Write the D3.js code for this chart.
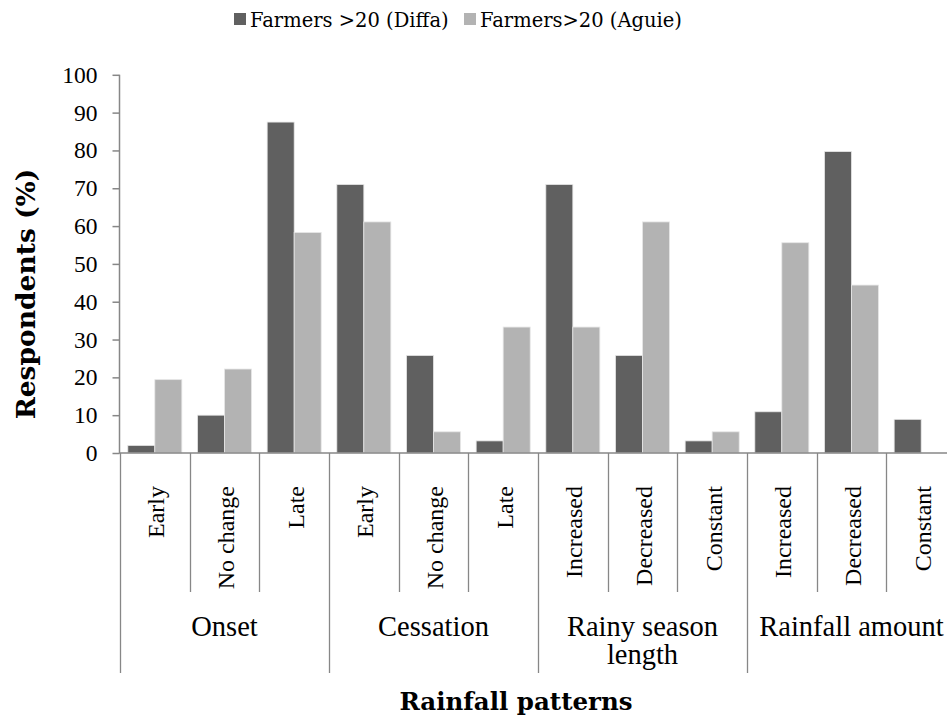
<!DOCTYPE html>
<html>
<head>
<meta charset="utf-8">
<script src="https://cdn.jsdelivr.net/npm/d3@7"></script>
<style>
html,body{margin:0;padding:0;background:#fff;}
svg{display:block;}
</style>
</head>
<body>
<svg id="chart" width="947" height="717"></svg>
<script>
// ---- data ----
const groups = ["Onset", "Cessation", "Rainy season length", "Rainfall amount"];
const subcategories = [
  ["Early", "No change", "Late"],
  ["Early", "No change", "Late"],
  ["Increased", "Decreased", "Constant"],
  ["Increased", "Decreased", "Constant"]
];
const seriesNames = ["Farmers >20 (Diffa)", "Farmers>20 (Aguie)"];
const diffa = [2.0, 10.0, 87.5, 71.0, 25.8, 3.2, 71.0, 25.8, 3.2, 10.9, 79.7, 8.9];
const aguie = [19.4, 22.2, 58.3, 61.1, 5.6, 33.3, 33.3, 61.1, 5.6, 55.6, 44.4, 0];
const yTicks = [0, 10, 20, 30, 40, 50, 60, 70, 80, 90, 100];
const colors = ["#606060", "#b3b3b3"];

// ---- build rows ----
const rows = [];
groups.forEach((g, gi) => subcategories[gi].forEach(s => rows.push({group: g, gi, sub: s, key: g + "|" + s})));
rows.forEach((r, i) => { r.values = [diffa[i], aguie[i]]; });

const svg = d3.select("#chart");
const axisColor = "#878787";
const TMS = '"Liberation Serif","Times New Roman",Times,serif';
const CMB = '"DejaVu Serif",serif';

const y = d3.scaleLinear().domain([0, 100]).range([453, 74.8]);
const x0 = d3.scaleBand().domain(rows.map(r => r.key)).range([120, 956]).paddingInner(0).paddingOuter(0);
const x1 = d3.scaleBand().domain(seriesNames).range([0, x0.bandwidth()]).paddingInner(0).paddingOuter(0.29);

// bars
const gBars = svg.append("g");
rows.forEach(r => {
  seriesNames.forEach((s, si) => {
    const v = r.values[si];
    if (v <= 0) return;
    gBars.append("rect")
      .attr("x", x0(r.key) + x1(s))
      .attr("y", y(v))
      .attr("width", x1.bandwidth())
      .attr("height", y(0) - y(v))
      .attr("fill", colors[si])
      .attr("stroke", "#e6e6e6")
      .attr("stroke-width", 0.8);
  });
});

// y axis
const yAxis = d3.axisLeft(y).tickValues(yTicks).tickSize(7).tickPadding(15);
const gy = svg.append("g").attr("transform", "translate(119.5,0)").call(yAxis);
gy.attr("font-family", TMS).attr("font-size", 23);
gy.select(".domain").attr("stroke", axisColor).attr("stroke-width", 1.5).attr("d", `M0,${y(100)}V${y(0)}`);
gy.selectAll(".tick line").attr("stroke", axisColor).attr("stroke-width", 1.5);
gy.selectAll(".tick text").attr("fill", "#000").attr("font-family", TMS).attr("font-size", 23.5);

// x baseline
svg.append("line").attr("x1", 119).attr("x2", 956).attr("y1", y(0)).attr("y2", y(0))
  .attr("stroke", axisColor).attr("stroke-width", 1.5);

// separators
const sepG = svg.append("g");
rows.forEach((r, i) => {
  const xl = Math.round(x0(r.key)) + 0.5;
  const isGroupStart = i === 0 || rows[i - 1].group !== r.group;
  sepG.append("line").attr("x1", xl).attr("x2", xl).attr("y1", y(0)).attr("y2", isGroupStart ? 673 : 592)
    .attr("stroke", axisColor).attr("stroke-width", 1.3);
});
sepG.append("line").attr("x1", 956).attr("x2", 956).attr("y1", y(0)).attr("y2", 673)
  .attr("stroke", axisColor).attr("stroke-width", 1.3);

// subcategory labels
rows.forEach(r => {
  const cx = x0(r.key) + x0.bandwidth() / 2;
  svg.append("text")
    .attr("transform", `translate(${cx + 1},486) rotate(-90)`)
    .attr("text-anchor", "end")
    .attr("dy", "0.35em")
    .attr("font-family", TMS)
    .attr("font-size", 24)
    .text(r.sub);
});

// group labels
groups.forEach((g, gi) => {
  const keys = rows.filter(r => r.gi === gi).map(r => r.key);
  const cx = (x0(keys[0]) + x0(keys[keys.length - 1]) + x0.bandwidth()) / 2;
  const lines = g === "Rainy season length" ? ["Rainy season", "length"] : [g];
  const t = svg.append("text").attr("text-anchor", "middle")
    .attr("font-family", TMS).attr("font-size", 28.5);
  lines.forEach((ln, li) => {
    t.append("tspan").attr("x", cx).attr("y", 636 + li * 28).text(ln);
  });
});

// axis titles
svg.append("text")
  .attr("transform", "translate(35,294) rotate(-90)")
  .attr("text-anchor", "middle")
  .attr("font-family", CMB).attr("font-weight", "bold").attr("font-size", 26.5)
  .text("Respondents (%)");
svg.append("text")
  .attr("x", 516).attr("y", 710)
  .attr("text-anchor", "middle")
  .attr("font-family", CMB).attr("font-weight", "bold").attr("font-size", 24.5)
  .text("Rainfall patterns");

// legend
const legendX = [234, 464];
seriesNames.forEach((s, si) => {
  svg.append("rect").attr("x", legendX[si]).attr("y", 13).attr("width", 12).attr("height", 12).attr("fill", colors[si]);
  svg.append("text").attr("x", legendX[si] + 16).attr("y", 27)
    .attr("font-family", CMB).attr("font-size", 19.5)
    .text(s);
});
</script>
</body>
</html>
